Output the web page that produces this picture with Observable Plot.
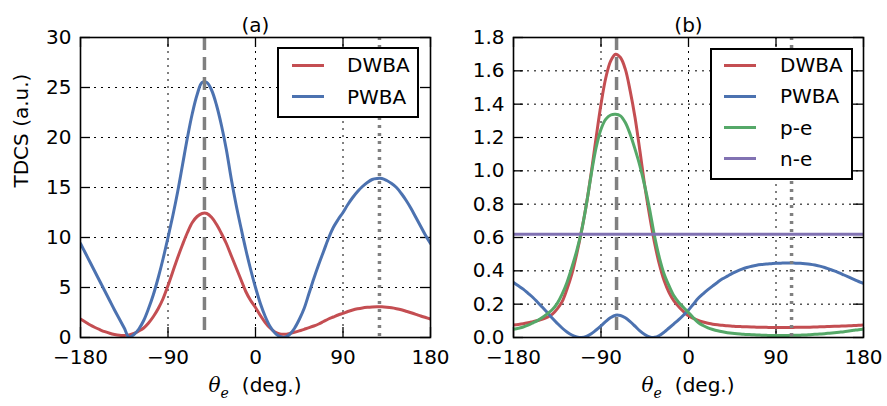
<!DOCTYPE html>
<html>
<head>
<meta charset="utf-8">
<script src="https://cdn.jsdelivr.net/npm/d3@7"></script>
<script src="https://cdn.jsdelivr.net/npm/@observablehq/plot@0.6"></script>
<style>
  html, body { margin: 0; padding: 0; background: #fff; }
  #wrap { position: relative; width: 887px; height: 406px; font-family: "DejaVu Sans", sans-serif; color: #000; }
  .panel { position: absolute; top: 0; }
  .legend { position: absolute; box-sizing: border-box; border: 2px solid #000; background: #fff; z-index: 5; }
  .legend .sw { position: absolute; height: 3px; width: 32px; }
  .legend .lb { position: absolute; font-size: 20px; line-height: 24px; white-space: nowrap; }
  .xl { position: absolute; width: 240px; text-align: center; font-size: 20px; line-height: 24px; white-space: nowrap; z-index: 5; }
</style>
</head>
<body>
<div id="wrap"></div>
<script>
// ---------------- data ----------------
const thetaGrid = d3.range(-180, 181, 5); // angular grid (deg.) used for both panels

// Panel (a)
const dwbaA = [1.85,1.55,1.25,1.0,0.78,0.58,0.42,0.3,0.22,0.2,0.25,0.4,0.65,0.95,1.45,2.1,2.9,3.9,5.2,6.6,8.0,9.3,10.5,11.5,12.1,12.4,12.4,12.0,11.3,10.4,9.4,8.2,7.0,5.8,4.6,3.7,3.0,2.2,1.5,0.95,0.55,0.35,0.32,0.4,0.52,0.66,0.82,0.98,1.15,1.35,1.6,1.85,2.05,2.25,2.42,2.6,2.75,2.87,2.96,3.02,3.06,3.08,3.07,3.03,2.97,2.88,2.77,2.63,2.48,2.32,2.15,2.0,1.85];
const pwbaA = [9.4,8.45,7.5,6.55,5.6,4.65,3.7,2.75,1.85,0.95,0.02,0.3,0.85,1.7,2.9,4.3,6.0,7.9,10.0,12.2,14.6,17.3,20.0,22.4,24.3,25.5,25.5,24.7,23.2,21.2,18.8,15.9,13.3,11.0,8.8,6.8,5.0,3.4,2.1,1.1,0.45,0.1,0.02,0.3,0.9,1.8,2.9,4.4,5.9,7.3,8.6,9.9,11.0,11.8,12.5,13.3,14.0,14.6,15.1,15.5,15.8,15.9,15.9,15.7,15.4,15.0,14.4,13.7,12.9,12.0,11.1,10.2,9.4];
const ridgeA = [-52.5];   // dashed marker
const recoilA = [127.5];  // dotted marker

// Panel (b)
const dwbaB = [0.075,0.078,0.082,0.088,0.095,0.102,0.11,0.122,0.14,0.172,0.215,0.29,0.38,0.5,0.64,0.8,0.99,1.2,1.4,1.56,1.66,1.70,1.68,1.61,1.48,1.32,1.12,0.91,0.73,0.57,0.44,0.34,0.27,0.22,0.185,0.155,0.13,0.115,0.102,0.093,0.086,0.08,0.076,0.073,0.07,0.068,0.066,0.065,0.064,0.063,0.062,0.061,0.061,0.06,0.06,0.06,0.06,0.06,0.061,0.061,0.062,0.062,0.063,0.064,0.065,0.066,0.067,0.068,0.069,0.07,0.072,0.073,0.075];
const pwbaB = [0.33,0.31,0.29,0.265,0.24,0.21,0.18,0.148,0.115,0.085,0.057,0.033,0.015,0.004,0.0,0.006,0.022,0.045,0.07,0.097,0.12,0.134,0.132,0.118,0.095,0.068,0.04,0.018,0.004,0.001,0.012,0.032,0.057,0.082,0.107,0.135,0.165,0.2,0.235,0.262,0.287,0.31,0.332,0.352,0.368,0.385,0.398,0.41,0.42,0.428,0.434,0.438,0.441,0.443,0.445,0.446,0.447,0.447,0.446,0.445,0.443,0.44,0.435,0.428,0.42,0.41,0.4,0.388,0.375,0.362,0.349,0.336,0.325];
const peB = [0.05,0.056,0.063,0.074,0.088,0.103,0.121,0.143,0.168,0.205,0.26,0.33,0.42,0.52,0.64,0.8,0.98,1.14,1.25,1.31,1.335,1.34,1.33,1.29,1.22,1.13,1.03,0.91,0.77,0.61,0.48,0.38,0.31,0.25,0.21,0.18,0.15,0.118,0.09,0.072,0.058,0.048,0.04,0.034,0.029,0.025,0.022,0.02,0.018,0.017,0.015,0.014,0.013,0.012,0.012,0.012,0.012,0.013,0.013,0.014,0.015,0.017,0.019,0.021,0.023,0.026,0.029,0.032,0.035,0.039,0.043,0.047,0.05];
const neB = [0.62];       // n-e level (constant)
const ridgeB = [-74];
const recoilB = [106];

const xTicks = [-180, -90, 0, 90, 180];
const yTicksA = [0, 5, 10, 15, 20, 25, 30];
const yTicksB = [0, 0.2, 0.4, 0.6, 0.8, 1.0, 1.2, 1.4, 1.6, 1.8];
const legendA = ["DWBA", "PWBA"];
const legendB = ["DWBA", "PWBA", "p-e", "n-e"];

const colors = {DWBA: "#C44E52", PWBA: "#4C72B0", "p-e": "#55A868", "n-e": "#8172B2"};
const minus = d => (d < 0 ? "\u2212" + Math.abs(d) : String(d));
const FONT = "DejaVu Sans";

// ---------------- drawing ----------------
const H = 406, MT = 37, MB = 69, TICK = 10;
const wrap = document.getElementById("wrap");

function rows(vals) { return thetaGrid.map((t, i) => ({theta: t, v: vals[i]})); }

function panel({left, width, ml, mr, yDomain, yTicks, yFormat, series, hlines, ridge, recoil, title, ylabel}) {
  const plotW = width - ml - mr, plotH = H - MT - MB;
  const inner = yTicks.slice(1, -1);
  const marks = [
    // grid
    Plot.ruleX(xTicks.slice(1, -1), {stroke: "#000", strokeWidth: 1, strokeDasharray: "2,5"}),
    Plot.ruleY(inner, {stroke: "#000", strokeWidth: 1, strokeDasharray: "2,5"}),
    // inward ticks on four sides
    Plot.ruleX(xTicks, {insetTop: plotH - TICK, stroke: "#000", strokeWidth: 1.3}),
    Plot.ruleX(xTicks, {insetBottom: plotH - TICK, stroke: "#000", strokeWidth: 1.3}),
    Plot.ruleY(yTicks, {insetRight: plotW - TICK, stroke: "#000", strokeWidth: 1.3}),
    Plot.ruleY(yTicks, {insetLeft: plotW - TICK, stroke: "#000", strokeWidth: 1.3}),
  ];
  for (const s of series) {
    marks.push(Plot.line(rows(s.vals), {x: "theta", y: "v", stroke: colors[s.name], strokeWidth: 3, curve: "catmull-rom", clip: true}));
  }
  for (const h of hlines) {
    marks.push(Plot.ruleY(h.vals, {stroke: colors[h.name], strokeWidth: 3}));
  }
  marks.push(
    Plot.ruleX(ridge, {stroke: "#808080", strokeWidth: 3.5, strokeDasharray: "13,7"}),
    Plot.ruleX(recoil, {stroke: "#808080", strokeWidth: 3.5, strokeDasharray: "3,5"}),
    Plot.frame({stroke: "#000", strokeWidth: 1.6}),
    Plot.axisX(xTicks, {tickSize: 0, tickPadding: 12, tickFormat: minus, label: null, fontSize: 20, fontFamily: FONT}),
    Plot.axisY(yTicks, {tickSize: 0, tickPadding: 9, tickFormat: yFormat, label: null, fontSize: 20, fontFamily: FONT}),
    Plot.text([title], {frameAnchor: "top", dy: -20, fontSize: 20, fontFamily: FONT})
  );
  if (ylabel) marks.push(Plot.text([ylabel], {frameAnchor: "left", rotate: -90, dx: -59, fontSize: 20, fontFamily: FONT}));
  const svg = Plot.plot({
    width, height: H,
    marginLeft: ml, marginRight: mr, marginTop: MT, marginBottom: MB,
    style: {fontSize: "20px", fontFamily: FONT, color: "#000", background: "transparent", overflow: "visible"},
    x: {domain: [-180, 180]},
    y: {domain: yDomain},
    marks
  });
  svg.classList.add("panel");
  svg.style.left = left + "px";
  wrap.appendChild(svg);

  // x label (math-style theta with subscript e)
  const xl = document.createElement("div");
  xl.className = "xl";
  const cx = left + ml + plotW / 2;
  xl.style.left = (cx - 120) + "px";
  xl.style.top = "373px";
  xl.innerHTML = '<span style="font-style:italic;font-family:\'DejaVu Serif\',serif">\u03B8</span>' +
    '<span style="font-style:italic;font-family:\'DejaVu Serif\',serif;font-size:14px;position:relative;top:6px">e</span>' +
    '<span style="margin-left:13px">(deg.)</span>';
  wrap.appendChild(xl);
}

function legend(names, box) {
  const lg = document.createElement("div");
  lg.className = "legend";
  Object.assign(lg.style, {left: box.x + "px", top: box.y + "px", width: box.w + "px", height: box.h + "px"});
  names.forEach((n, i) => {
    const cy = box.first + i * box.step - 2; // minus border
    const sw = document.createElement("div");
    sw.className = "sw";
    Object.assign(sw.style, {left: (box.swx - 2) + "px", top: (cy - 1.5) + "px", background: colors[n]});
    const lb = document.createElement("div");
    lb.className = "lb";
    Object.assign(lb.style, {left: (box.tx - 2) + "px", top: (cy - 12) + "px"});
    lb.textContent = n;
    lg.appendChild(sw); lg.appendChild(lb);
  });
  wrap.appendChild(lg);
}

panel({
  left: 0, width: 443, ml: 80, mr: 13,
  yDomain: [0, 30], yTicks: yTicksA, yFormat: d => String(d),
  series: [{name: "DWBA", vals: dwbaA}, {name: "PWBA", vals: pwbaA}],
  hlines: [], ridge: ridgeA, recoil: recoilA, title: "(a)", ylabel: "TDCS (a.u.)"
});
panel({
  left: 443, width: 444, ml: 70, mr: 24,
  yDomain: [0, 1.8], yTicks: yTicksB, yFormat: d3.format(".1f"),
  series: [{name: "DWBA", vals: dwbaB}, {name: "PWBA", vals: pwbaB}, {name: "p-e", vals: peB}],
  hlines: [{name: "n-e", vals: neB}], ridge: ridgeB, recoil: recoilB, title: "(b)", ylabel: null
});

legend(legendA, {x: 277, y: 47, w: 142, h: 71, first: 18, step: 31.7, swx: 15, tx: 70});
legend(legendB, {x: 710, y: 48, w: 143, h: 132, first: 17, step: 31.3, swx: 14, tx: 70});
</script>
</body>
</html>
